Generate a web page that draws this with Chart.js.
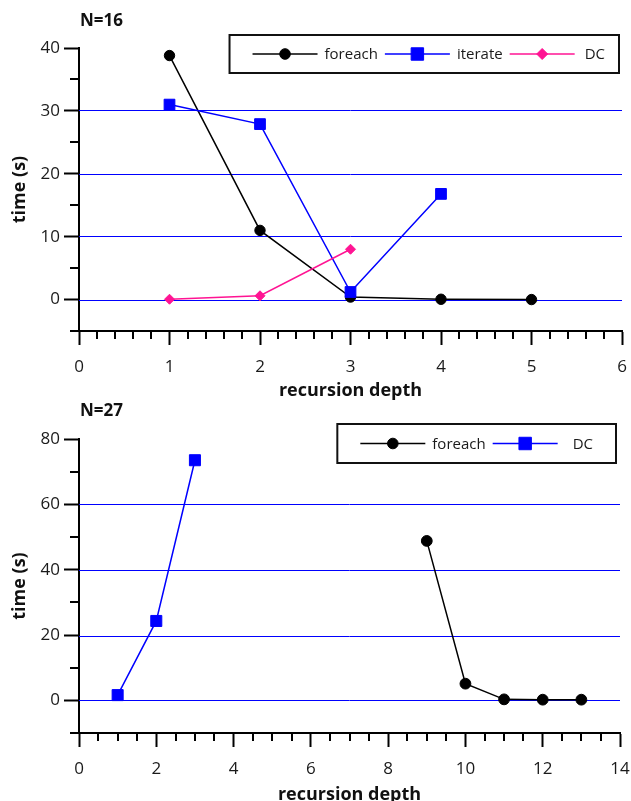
<!DOCTYPE html>
<html><head><meta charset="utf-8">
<script src="https://cdn.jsdelivr.net/npm/chart.js@4/dist/chart.umd.min.js"></script>
<style>
html,body{margin:0;padding:0;background:#fff;}
#wrap{position:relative;width:631px;height:801px;overflow:hidden;}
.box{position:absolute;left:0;width:631px;}
canvas{display:block;}
</style></head><body>
<div id="wrap">
<div class="box" style="top:0;height:400px"><canvas id="c1" width="631" height="400"></canvas></div>
<div class="box" style="top:400px;height:401px"><canvas id="c2" width="631" height="401"></canvas></div>
</div>
<script>
// ---- data ----
const topTitle = 'N=16';
const topForeachX = [1, 2, 3, 4, 5];
const topForeachY = [38.8, 11.0, 0.4, 0.05, 0.0];
const topIterateX = [1, 2, 3, 4];
const topIterateY = [31.0, 27.9, 1.2, 16.8];
const topDCX = [1, 2, 3];
const topDCY = [0.05, 0.6, 8.0];
const topXTicks = [0, 1, 2, 3, 4, 5, 6];
const topYTicks = [0, 10, 20, 30, 40];

const botTitle = 'N=27';
const botForeachX = [9, 10, 11, 12, 13];
const botForeachY = [48.8, 5.1, 0.3, 0.2, 0.2];
const botDCX = [1, 2, 3];
const botDCY = [1.6, 24.3, 73.5];
const botXTicks = [0, 2, 4, 6, 8, 10, 12, 14];
const botYTicks = [0, 20, 40, 60, 80];

const seriesNames = ['foreach', 'iterate', 'DC'];
const xTitle = 'recursion depth';
const yTitle = 'time (s)';

// ---- styling ----
const FONT = "'Open Sans', 'Noto Sans', sans-serif";
const BLACK = '#000000';
const BLUE = '#0000ff';
const PINK = '#ff1493';

function pts(xs, ys) { return xs.map((x, i) => ({x: x, y: ys[i]})); }

function ds(label, xs, ys, color, style, radius, order, legendRadius, gap) {
  return {
    label: label, data: pts(xs, ys), borderColor: color, backgroundColor: color,
    borderWidth: 1.5, pointStyle: style, pointRadius: radius, pointBorderWidth: 1,
    pointBorderColor: color, pointBackgroundColor: color, fill: false, tension: 0,
    order: order, legendRadius: legendRadius, legendGap: gap || 0
  };
}

const hGrid = {
  id: 'hGrid',
  beforeDatasetsDraw(chart, args, o) {
    const ctx = chart.ctx, ca = chart.chartArea, ys = chart.scales.y;
    ctx.save();
    ctx.strokeStyle = BLUE; ctx.lineWidth = 1;
    o.values.forEach(v => {
      if (v >= ys.max) return;
      const p = 2 * Math.round(ys.getPixelForValue(v) / 2) + 0.5;
      ctx.beginPath(); ctx.moveTo(ca.left, p); ctx.lineTo(ca.right, p); ctx.stroke();
    });
    ctx.restore();
  }
};

const minorTicks = {
  id: 'minorTicks',
  afterDraw(chart, args, o) {
    const ctx = chart.ctx, ca = chart.chartArea;
    const xs = chart.scales.x, ys = chart.scales.y;
    ctx.save();
    ctx.strokeStyle = BLACK; ctx.lineWidth = 2;
    let n = Math.round((ys.max - ys.min) / o.yStep);
    for (let i = 0; i <= n; i++) {
      const v = ys.min + i * o.yStep;
      if (o.yMajor.some(m => Math.abs(m - v) < 1e-9)) continue;
      const p = Math.round(ys.getPixelForValue(v));
      ctx.beginPath(); ctx.moveTo(ca.left - 9, p); ctx.lineTo(ca.left, p); ctx.stroke();
    }
    n = Math.round((xs.max - xs.min) / o.xStep);
    for (let i = 0; i <= n; i++) {
      const v = xs.min + i * o.xStep;
      if (o.xMajor.some(m => Math.abs(m - v) < 1e-9)) continue;
      const p = Math.round(xs.getPixelForValue(v));
      ctx.beginPath(); ctx.moveTo(p, ca.bottom); ctx.lineTo(p, ca.bottom + 8); ctx.stroke();
    }
    ctx.restore();
  }
};

const boxLegend = {
  id: 'boxLegend',
  afterDraw(chart, args, o) {
    const ctx = chart.ctx, ca = chart.chartArea;
    ctx.save();
    ctx.font = '15px ' + FONT;
    const items = chart.data.datasets;
    const lineLen = 65, tgap = 7, pad = 7, padL = 23, padR = o.padR;
    let total = padL + padR;
    items.forEach((d, i) => {
      total += lineLen + tgap + d.legendGap + ctx.measureText(d.label).width;
      if (i < items.length - 1) total += pad;
    });
    const right = ca.right - o.rightInset;
    const left = right - total;
    const top = o.top, bottom = o.bottom;
    ctx.fillStyle = '#fff';
    ctx.fillRect(left, top, right - left, bottom - top);
    ctx.strokeStyle = '#111'; ctx.lineWidth = 2;
    ctx.strokeRect(left, top, right - left, bottom - top);
    const cy = (top + bottom) / 2;
    let x = left + padL;
    items.forEach((d, i) => {
      ctx.strokeStyle = d.borderColor; ctx.lineWidth = 1.5;
      ctx.beginPath(); ctx.moveTo(x, cy); ctx.lineTo(x + lineLen, cy); ctx.stroke();
      ctx.fillStyle = d.backgroundColor; ctx.strokeStyle = d.borderColor; ctx.lineWidth = 1;
      Chart.helpers.drawPoint(ctx, {pointStyle: d.pointStyle, radius: d.legendRadius, borderWidth: 1}, x + lineLen / 2, cy);
      x += lineLen + tgap + d.legendGap;
      ctx.fillStyle = '#1a1a1a'; ctx.textBaseline = 'middle'; ctx.textAlign = 'left';
      ctx.fillText(d.label, x, cy + 1);
      x += ctx.measureText(d.label).width + pad;
    });
    ctx.restore();
  }
};

const panelTitle = {
  id: 'panelTitle',
  afterDraw(chart, args, o) {
    const ctx = chart.ctx;
    ctx.save();
    ctx.font = 'bold 17px ' + FONT;
    ctx.fillStyle = '#111'; ctx.textBaseline = 'middle'; ctx.textAlign = 'left';
    ctx.fillText(o.text, o.x, o.y);
    ctx.restore();
  }
};

function makeChart(id, cfg) {
  return new Chart(document.getElementById(id), {
    type: 'line',
    data: {datasets: cfg.datasets},
    plugins: [hGrid, minorTicks, boxLegend, panelTitle],
    options: {
      responsive: false, animation: false, events: [],
      layout: {padding: {top: cfg.padTop, right: cfg.padRight, left: 0, bottom: 0}},
      plugins: {
        legend: {display: false}, tooltip: {enabled: false}, title: {display: false},
        hGrid: {values: cfg.yTicks},
        minorTicks: {xStep: cfg.xMinor, yStep: cfg.yMinor, xMajor: cfg.xTicks, yMajor: cfg.yTicks},
        boxLegend: {top: cfg.legTop, bottom: cfg.legBottom, rightInset: cfg.legInset, padR: cfg.legPadR},
        panelTitle: {text: cfg.title, x: 80, y: cfg.titleY}
      },
      scales: {
        x: {
          type: 'linear', position: 'bottom', min: cfg.xMin, max: cfg.xMax,
          afterBuildTicks: s => { s.ticks = cfg.xTicks.map(v => ({value: v})); },
          afterFit: s => { s.height = cfg.xHeight; s.paddingLeft = 0; s.paddingRight = 0; },
          grid: {drawOnChartArea: false, drawTicks: true, tickLength: 14, tickWidth: 2, tickColor: BLACK},
          border: {display: true, color: BLACK, width: 2},
          ticks: {font: {family: FONT, size: 17}, color: '#1a1a1a', padding: 12, maxRotation: 0, autoSkip: false},
          title: {display: true, text: xTitle, color: '#111', font: {family: FONT, size: 18, weight: 'bold'}, padding: {top: 0, bottom: cfg.xTitlePad}}
        },
        y: {
          type: 'linear', position: 'left', min: cfg.yMin, max: cfg.yMax,
          afterBuildTicks: s => { s.ticks = cfg.yTicks.map(v => ({value: v})); },
          afterFit: s => { s.width = 79; s.paddingTop = 0; s.paddingBottom = 0; },
          grid: {drawOnChartArea: false, drawTicks: true, tickLength: 15, tickWidth: 2, tickColor: BLACK},
          border: {display: true, color: BLACK, width: 2},
          ticks: {font: {family: FONT, size: 17}, color: '#1a1a1a', padding: 4, autoSkip: false},
          title: {display: true, text: yTitle, color: '#111', font: {family: FONT, size: 18, weight: 'bold'}, padding: {top: 9, bottom: 0}}
        }
      }
    }
  });
}

makeChart('c1', {
  datasets: [
    ds(seriesNames[0], topForeachX, topForeachY, BLACK, 'circle', 5.2, 2, 5.3, 0),
    ds(seriesNames[1], topIterateX, topIterateY, BLUE, 'rect', 7.6, 1, 8.8, 0),
    ds(seriesNames[2], topDCX, topDCY, PINK, 'rectRot', 5, 0, 5.5, 3)
  ],
  xMin: 0, xMax: 6, yMin: -5, yMax: 40, xTicks: topXTicks, yTicks: topYTicks,
  xMinor: 0.2, yMinor: 5, padTop: 48, padRight: 9, xHeight: 69, xTitlePad: -2,
  legTop: 35, legBottom: 73, legInset: 3, legPadR: 14, title: topTitle, titleY: 21
});

makeChart('c2', {
  datasets: [
    ds(seriesNames[0], botForeachX, botForeachY, BLACK, 'circle', 5.4, 1, 5.3, 0),
    ds(seriesNames[2], botDCX, botDCY, BLUE, 'rect', 7.8, 0, 8.8, 8)
  ],
  xMin: 0, xMax: 14, yMin: -10, yMax: 80, xTicks: botXTicks, yTicks: botYTicks,
  xMinor: 0.5, yMinor: 10, padTop: 39, padRight: 11, xHeight: 68, xTitlePad: -5,
  legTop: 24, legBottom: 63, legInset: 4, legPadR: 23, title: botTitle, titleY: 11
});
</script>
</body></html>
